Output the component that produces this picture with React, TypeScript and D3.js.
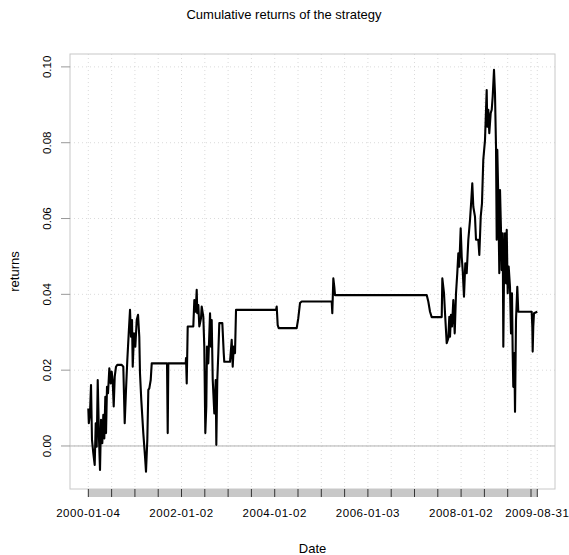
import React from 'react';
import * as d3 from 'd3';

const W = 569;
const H = 555;

// years since 2000-01-04 (trading-index position expressed in years)
const tYears = [
  0.000, 0.011, 0.036, 0.058, 0.079, 0.107, 0.137, 0.159, 0.180, 0.202,
  0.230, 0.251, 0.273, 0.300, 0.322, 0.343, 0.365, 0.380, 0.401, 0.423,
  0.451, 0.481, 0.502, 0.524, 0.545, 0.567, 0.594, 0.622, 0.717, 0.751,
  0.781, 0.809, 0.837, 0.867, 0.895, 0.916, 0.938, 0.953, 0.981, 1.009,
  1.039, 1.067, 1.094, 1.109, 1.137, 1.180, 1.217, 1.238, 1.266, 1.288,
  1.309, 1.339, 1.361, 1.689, 1.704, 1.717, 2.090, 2.097, 2.112, 2.133,
  2.253, 2.275, 2.305, 2.326, 2.339, 2.361, 2.382, 2.418, 2.433, 2.468,
  2.489, 2.511, 2.532, 2.547, 2.575, 2.612, 2.633, 2.648, 2.670, 2.704,
  2.734, 2.747, 2.768, 2.790, 2.811, 2.876, 2.906, 2.918, 3.041, 3.077,
  3.099, 3.120, 3.148, 3.170, 4.028, 4.043, 4.064, 4.086, 4.472, 4.506,
  4.543, 4.579, 5.223, 5.236, 5.258, 5.279, 5.294, 7.262, 7.296, 7.333,
  7.369, 7.584, 7.597, 7.633, 7.655, 7.691, 7.725, 7.747, 7.762, 7.783,
  7.805, 7.833, 7.863, 7.891, 7.918, 7.940, 7.961, 7.991, 8.013, 8.034,
  8.062, 8.090, 8.120, 8.155, 8.191, 8.219, 8.240, 8.262, 8.298, 8.320,
  8.369, 8.391, 8.421, 8.448, 8.476, 8.513, 8.549, 8.562, 8.584, 8.605,
  8.635, 8.657, 8.678, 8.706, 8.727, 8.749, 8.764, 8.777, 8.798, 8.820,
  8.835, 8.856, 8.871, 8.893, 8.906, 8.921, 8.942, 8.964, 8.979, 9.000,
  9.021, 9.049, 9.071, 9.092, 9.107, 9.120, 9.142, 9.157, 9.178, 9.206,
  9.227, 9.515, 9.528, 9.536, 9.549, 9.564, 9.635,
];

const cumReturns = [
  0.0099, 0.0060, 0.0086, 0.0161, 0.0016, -0.0019, -0.0050, 0.0060, -0.0002, 0.0174,
  0.0016, -0.0063, 0.0069, 0.0007, 0.0082, 0.0020, 0.0130, 0.0034, 0.0156, 0.0139,
  0.0205, 0.0165, 0.0196, 0.0170, 0.0104, 0.0183, 0.0209, 0.0214, 0.0214, 0.0209,
  0.0060, 0.0148, 0.0227, 0.0297, 0.0359, 0.0288, 0.0332, 0.0209, 0.0297, 0.0262,
  0.0332, 0.0346, 0.0288, 0.0192, 0.0121, 0.0034, -0.0028, -0.0068, 0.0016, 0.0148,
  0.0152, 0.0174, 0.0218, 0.0218, 0.0034, 0.0218, 0.0218, 0.0232, 0.0165, 0.0315,
  0.0315, 0.0385, 0.0354, 0.0412, 0.0350, 0.0372, 0.0315, 0.0337, 0.0368, 0.0341,
  0.0262, 0.0034, 0.0104, 0.0262, 0.0218, 0.0350, 0.0262, 0.0332, 0.0174, 0.0086,
  0.0174, 0.0003, 0.0174, 0.0245, 0.0324, 0.0324, 0.0245, 0.0222, 0.0222, 0.0280,
  0.0209, 0.0262, 0.0245, 0.0359, 0.0359, 0.0368, 0.0319, 0.0311, 0.0311, 0.0337,
  0.0377, 0.0381, 0.0381, 0.0350, 0.0442, 0.0420, 0.0398, 0.0398, 0.0381, 0.0354,
  0.0340, 0.0340, 0.0442, 0.0403, 0.0350, 0.0271, 0.0284, 0.0341, 0.0288, 0.0346,
  0.0315, 0.0385, 0.0297, 0.0403, 0.0456, 0.0508, 0.0473, 0.0574, 0.0499, 0.0464,
  0.0394, 0.0482, 0.0456, 0.0544, 0.0596, 0.0649, 0.0693, 0.0631, 0.0605, 0.0544,
  0.0544, 0.0504, 0.0605, 0.0640, 0.0755, 0.0807, 0.0939, 0.0842, 0.0887, 0.0825,
  0.0878, 0.0887, 0.0922, 0.0992, 0.0931, 0.0790, 0.0544, 0.0781, 0.0658, 0.0456,
  0.0675, 0.0570, 0.0464, 0.0561, 0.0262, 0.0456, 0.0561, 0.0429, 0.0570, 0.0403,
  0.0473, 0.0420, 0.0297, 0.0403, 0.0245, 0.0156, 0.0245, 0.0090, 0.0332, 0.0420,
  0.0354, 0.0354, 0.0315, 0.0249, 0.0315, 0.0350, 0.0354,
];

const yTicks = [0, 0.02, 0.04, 0.06, 0.08, 0.1];
const yTickLabels = ['0.00', '0.02', '0.04', '0.06', '0.08', '0.10'];

const xMinorTicks = [
  0, 0.5, 1, 1.5, 2, 2.5, 3, 3.5, 4, 4.5, 5, 5.5, 6, 6.5, 7, 7.5, 8, 8.5, 9, 9.5, 9.635,
];
const xMajorTicks = [0, 2, 4, 6, 8, 9.635];
const xMajorLabels = ['2000-01-04', '2002-01-02', '2004-01-02', '2006-01-03', '2008-01-02', '2009-08-31'];

const FONT = '"Liberation Sans", Arial, Helvetica, sans-serif';

export default function App() {
  const left = 70, right = 555, top = 54, bottom = 489;
  const x = d3.scaleLinear().domain([-0.393, 10.015]).range([left, right]);
  const y = d3.scaleLinear().domain([-0.01135, 0.1034]).range([bottom, top]);

  const pts: [number, number][] = tYears.map((t, i) => [t, cumReturns[i]]);
  const line = d3
    .line<[number, number]>()
    .x((d) => x(d[0]))
    .y((d) => y(d[1]));

  const bandTop = bottom;
  const bandBottom = bottom + 8;
  const endT = xMinorTicks[xMinorTicks.length - 1];

  return (
    <svg
      width={W}
      height={H}
      style={{ position: 'absolute', left: 0, top: 0, background: '#fff' }}
      fontFamily={FONT}
    >
      <rect x={0} y={0} width={W} height={H} fill="#fff" />
      <text x={284} y={19} textAnchor="middle" fontSize={13} fill="#000">
        Cumulative returns of the strategy
      </text>

      {/* grid */}
      {yTicks.map((v) => (
        <line
          key={'gy' + v}
          x1={left}
          x2={right}
          y1={y(v)}
          y2={y(v)}
          stroke="#d0d0d0"
          strokeWidth={0.8}
          strokeDasharray="1,3"
        />
      ))}
      {xMinorTicks.map((t) => (
        <line
          key={'gx' + t}
          x1={x(t)}
          x2={x(t)}
          y1={top}
          y2={bottom}
          stroke="#d0d0d0"
          strokeWidth={0.8}
          strokeDasharray="1,3"
        />
      ))}

      {/* zero line */}
      <line x1={left} x2={right} y1={y(0)} y2={y(0)} stroke="#b0b0b0" strokeWidth={1} />

      {/* series */}
      <path d={line(pts) || ''} fill="none" stroke="#000" strokeWidth={2.1} strokeLinejoin="round" />

      {/* box */}
      <rect x={left} y={top} width={right - left} height={bottom - top} fill="none" stroke="#c8c8c8" strokeWidth={1} />

      {/* y axis ticks and labels */}
      {yTicks.map((v, i) => (
        <g key={'yt' + v}>
          <line x1={left - 9} x2={left} y1={y(v)} y2={y(v)} stroke="#999" strokeWidth={1} />
          <text
            transform={`translate(${left - 19},${y(v)}) rotate(-90)`}
            textAnchor="middle"
            fontSize={11.5}
            fill="#000"
          >
            {yTickLabels[i]}
          </text>
        </g>
      ))}
      <text transform={`translate(19,${(top + bottom) / 2}) rotate(-90)`} textAnchor="middle" fontSize={13} fill="#000">
        returns
      </text>

      {/* x axis band */}
      <rect x={x(0)} y={bandTop} width={x(endT) - x(0)} height={bandBottom - bandTop} fill="#c8c8c8" />
      {xMinorTicks.map((t) => (
        <line key={'xt' + t} x1={x(t)} x2={x(t)} y1={bandTop} y2={bandBottom} stroke="#333" strokeWidth={1} />
      ))}
      {xMajorTicks.map((t, i) => (
        <text key={'xl' + t} x={x(t)} y={517} textAnchor="middle" fontSize={11.5} letterSpacing={0.55} fill="#000">
          {xMajorLabels[i]}
        </text>
      ))}
      <text x={(left + right) / 2} y={553} textAnchor="middle" fontSize={13} fill="#000">
        Date
      </text>
    </svg>
  );
}
